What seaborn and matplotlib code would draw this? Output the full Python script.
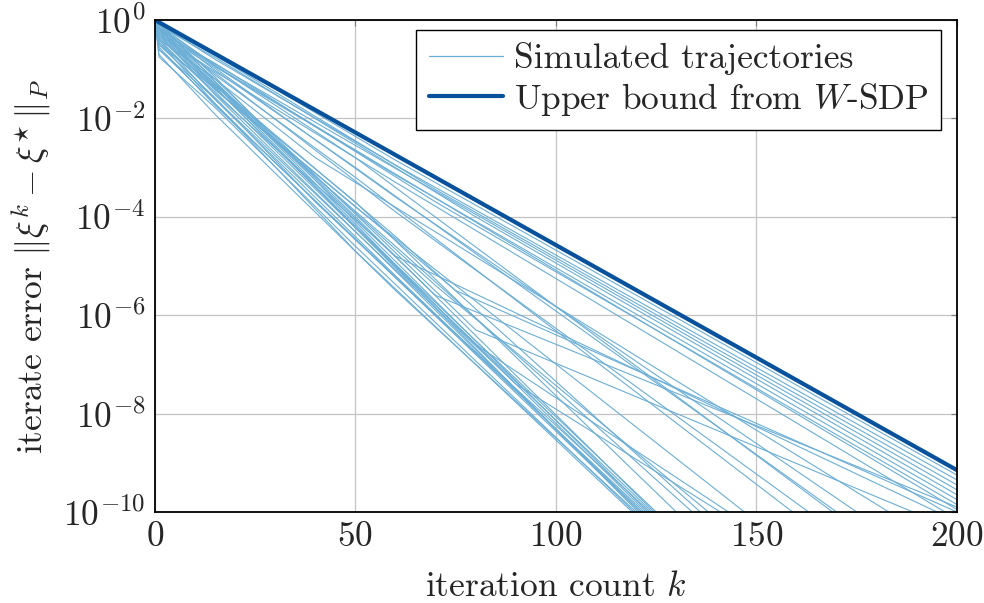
import numpy as np
import pandas as pd
import matplotlib
matplotlib.use("Agg")
import matplotlib.pyplot as plt
from matplotlib.lines import Line2D
import seaborn as sns

# log10 of the iterate error at a few knots of each simulated trajectory
# (every trajectory starts at 1 for k = 0)
traj_drop = [-0.05, -0.08, -0.10, -0.15, -0.12, -0.20, -0.25, -0.18, -0.30,
             -0.30, -0.40, -0.20, -0.35,
             -0.20, -0.30, -0.15, -0.25, -0.40, -0.10,
             -0.30, -0.50, -0.20, -0.45, -0.35, -0.60, -0.25,
             -0.05, -0.10, -0.30, -0.60, -0.70, -0.50, -0.40, -0.20,
             -0.75, -0.15, -0.35, -0.55, -0.25, -0.45]
# value at k = 15
traj_early_val = [-0.68, -0.80, -0.72, -0.90, -0.76, -0.95, -0.88, -0.93, -1.05,
                  -1.30, -1.50, -1.20, -1.40,
                  -1.12, -1.08, -1.02, -0.98, -1.20, -0.93,
                  -1.35, -1.40, -1.33, -1.46, -1.42, -1.60, -1.30,
                  -1.25, -1.16, -1.52, -1.70, -1.92, -1.58, -1.62, -1.26,
                  -1.78, -1.38, -1.37, -1.74, -1.31, -1.70]
traj_knee_k = [60, 60, 70, 50, 80, 60, 70, 90, 60,
               70, 60, 80, 75,
               50, 60, 50, 60, 40, 50,
               50, 60, 70, 80, 50, 90, 60,
               50, 50, 50, 50, 60, 40, 60, 70,
               50, 60, 40, 70, 50, 30]
traj_knee_val = [-2.85, -2.95, -3.45, -2.55, -4.0, -3.15, -3.7, -4.6, -3.3,
                 -5.6, -4.8, -6.3, -5.5,
                 -3.2, -3.9, -3.0, -3.6, -2.8, -2.8,
                 -3.7, -4.6, -5.4, -6.6, -3.8, -7.4, -4.4,
                 -4.0, -4.1, -4.3, -4.7, -5.5, -3.7, -5.2, -5.8,
                 -4.6, -5.0, -3.4, -6.0, -4.2, -2.9]
traj_end_k = [200, 200, 200, 200, 200, 200, 200, 200, 197,
              200, 195, 189, 200,
              159, 163, 170, 175, 183, 169,
              130, 134, 138, 143, 147, 141, 136,
              124.5, 123, 121, 119, 120, 122, 121.5, 124,
              119.5, 122.5, 120.5, 123.5, 125, 121]
traj_end_val = [-9.25, -9.35, -9.45, -9.55, -9.65, -9.75, -9.85, -9.95, -10.0,
                -9.9, -10.0, -10.0, -10.0,
                -10.0, -10.0, -10.0, -10.0, -10.0, -10.0,
                -10.0, -10.0, -10.0, -10.0, -10.0, -10.0, -10.0,
                -10.0, -10.0, -10.0, -10.0, -10.0, -10.0, -10.0, -10.0,
                -10.0, -10.0, -10.0, -10.0, -10.0, -10.0]

# upper bound from the W-SDP (log10)
bound_k = [0, 200]
bound_val = [0.0, -9.15]

light_blue = "#6baed6"
dark_blue = "#08519c"
fs = 25.5

rows = []
for i in range(len(traj_drop)):
    ks = [0, 1, 15, traj_knee_k[i], traj_end_k[i]]
    vs = [0.0, traj_drop[i], traj_early_val[i], traj_knee_val[i], traj_end_val[i]]
    for k, v in zip(ks, vs):
        rows.append({"traj": i, "k": k, "err": 10.0 ** v})
df = pd.DataFrame(rows)
df_bound = pd.DataFrame({"k": bound_k, "err": [10.0 ** v for v in bound_val]})

sns.set_theme(style="white")
plt.rcParams["font.family"] = ["cmr10", "DejaVu Serif"]
plt.rcParams["mathtext.fontset"] = "cm"
plt.rcParams["axes.formatter.use_mathtext"] = True
plt.rcParams["axes.unicode_minus"] = False

fig = plt.figure(figsize=(9.84, 6.03), dpi=100)
ax = fig.add_axes([0.1575, 0.151, 0.815, 0.8158])

sns.lineplot(data=df, x="k", y="err", units="traj", estimator=None,
             color=light_blue, linewidth=0.8, ax=ax, legend=False, sort=False)
sns.lineplot(data=df_bound, x="k", y="err", color=dark_blue, linewidth=3.0,
             ax=ax, legend=False, zorder=5)

ax.set_yscale("log")
ax.set_xlim(0, 200)
ax.set_ylim(1e-10, 1)
ax.set_xticks([0, 50, 100, 150, 200])
ax.set_yticks([10.0 ** e for e in range(-10, 1, 2)])
ax.minorticks_off()
ax.grid(True, color="#c4c4c4", linewidth=0.9)
ax.tick_params(direction="in", length=4.5, width=0.9, color="#808080",
               top=True, right=True, labelsize=fs, pad=7)
for s in ax.spines.values():
    s.set_color("black")
    s.set_linewidth(1.3)
    s.set_zorder(6)

ax.set_xlabel(r"iteration count $k$", fontsize=fs, labelpad=13)
ax.set_ylabel(r"iterate error $\Vert\xi^{k}-\xi^{\!\star}\Vert_{P}$", fontsize=fs, labelpad=7)

handles = [Line2D([], [], color=light_blue, linewidth=0.9),
           Line2D([], [], color=dark_blue, linewidth=3.0)]
leg = ax.legend(handles, ["Simulated trajectories", r"Upper bound from $W$-SDP"],
                loc="upper right", bbox_to_anchor=(0.980, 0.980),
                fontsize=fs, frameon=True, fancybox=False,
                framealpha=1, edgecolor="black", handlelength=2.1,
                handletextpad=0.3, borderaxespad=0.0, borderpad=0.35,
                labelspacing=0.15)
leg.get_frame().set_linewidth(1.0)
leg.set_zorder(10)

fig.savefig("out.png", dpi=100)
